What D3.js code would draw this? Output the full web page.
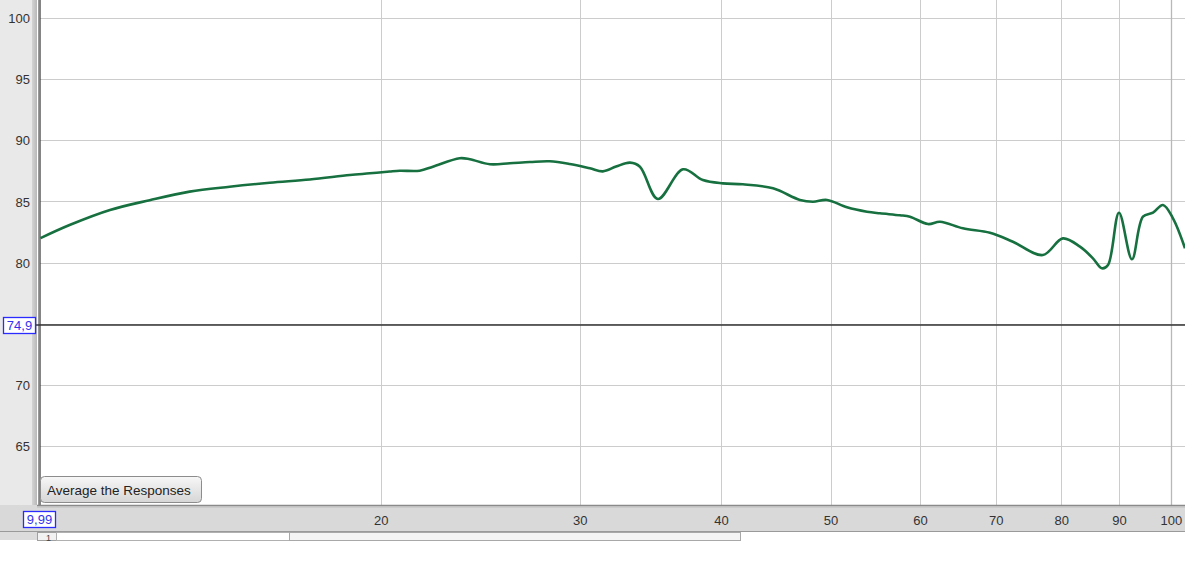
<!DOCTYPE html>
<html>
<head>
<meta charset="utf-8">
<script src="https://cdn.jsdelivr.net/npm/d3@7/dist/d3.min.js"></script>
<style>
  html, body { margin: 0; padding: 0; background: #fff; }
  svg { display: block; font-family: "Liberation Sans", Arial, sans-serif; }
</style>
</head>
<body>
<svg id="chart" width="1185" height="584"></svg>
<script>
// ---- data ----
const freqs = [10.0, 10.61, 11.52, 12.49, 13.55, 14.70, 15.95, 17.31, 18.78, 19.56, 20.37, 20.79, 21.65, 22.24,
  23.49, 23.98, 24.98, 26.01, 27.10, 28.22, 29.39, 30.62, 31.44, 32.3, 33.23, 33.91, 35.17, 37.02,
  38.55, 40.15, 41.82, 44.47, 46.98, 48.24, 49.64, 51.70, 53.85, 55.29, 57.59, 58.78, 60.98, 62.49, 65.47,
  69.18, 72.49, 77.05, 80.26, 83.10, 85.33, 86.90, 87.99, 89.98, 92.39, 94.48, 96.44, 98.41, 100.44, 102.93];
const spl = [82.0, 83.07, 84.3, 85.1, 85.8, 86.2, 86.53, 86.8, 87.16, 87.3, 87.45, 87.51, 87.51, 87.84,
  88.53, 88.45, 88.04, 88.12, 88.22, 88.28, 88.06, 87.71, 87.46, 87.85, 88.17, 87.84, 85.2, 87.63,
  86.75, 86.48, 86.4, 86.07, 85.12, 84.98, 85.12, 84.52, 84.16, 84.03, 83.87, 83.75, 83.15, 83.34, 82.8,
  82.44, 81.71, 80.62, 81.98, 81.3, 80.35, 79.53, 79.8, 84.08, 80.27, 83.75, 84.08, 84.71, 83.62, 81.17];
const xTicks = [20, 30, 40, 50, 60, 70, 80, 90, 100];
const yGrid = [65, 70, 75, 80, 85, 90, 95, 100];
const yLabels = [65, 70, 80, 85, 90, 95, 100];
const xMin = 9.99, xMax = 102.93;
const cursorY = 74.9;
const cursorXLabel = "9,99";
const cursorYLabel = "74,9";
const buttonLabel = "Average the Responses";

// ---- layout ----
const W = 1185;
const plotL = 40, plotR = 1185, plotT = 0, plotB = 505;
const svg = d3.select("#chart");

const x = d3.scaleLog().domain([xMin, xMax]).range([plotL, plotR]);
const y = d3.scaleLinear().domain([60.18, 101.47]).range([plotB, plotT]);

// defs
const defs = svg.append("defs");
const sideGrad = defs.append("linearGradient").attr("id", "sideGrad").attr("x1", 0).attr("x2", 1).attr("y1", 0).attr("y2", 0);
sideGrad.append("stop").attr("offset", "0%").attr("stop-color", "#d4d4d4");
sideGrad.append("stop").attr("offset", "100%").attr("stop-color", "#b8b8b8");
const btnGrad = defs.append("linearGradient").attr("id", "btnGrad").attr("x1", 0).attr("x2", 0).attr("y1", 0).attr("y2", 1);
btnGrad.append("stop").attr("offset", "0%").attr("stop-color", "#f7f7f7");
btnGrad.append("stop").attr("offset", "100%").attr("stop-color", "#d6d6d6");
defs.append("clipPath").attr("id", "plotClip").append("rect")
  .attr("x", plotL).attr("y", plotT).attr("width", plotR - plotL).attr("height", plotB - plotT);

// left panel
svg.append("rect").attr("x", 0).attr("y", 0).attr("width", 37).attr("height", 532).attr("fill", "#e9e9e9");
svg.append("rect").attr("x", 32).attr("y", 0).attr("width", 5).attr("height", 505).attr("fill", "url(#sideGrad)");
// plot background
svg.append("rect").attr("x", 37).attr("y", 0).attr("width", W - 37).attr("height", plotB).attr("fill", "#ffffff");

// grid
const grid = svg.append("g");
grid.selectAll("line.h").data(yGrid).join("line")
  .attr("x1", plotL).attr("x2", plotR)
  .attr("y1", d => Math.round(y(d)) + 0.5).attr("y2", d => Math.round(y(d)) + 0.5)
  .attr("stroke", "#cccccc").attr("stroke-width", 1);
grid.selectAll("line.v").data(xTicks).join("line")
  .attr("x1", d => Math.round(x(d)) + 0.5).attr("x2", d => Math.round(x(d)) + 0.5)
  .attr("y1", plotT).attr("y2", plotB)
  .attr("stroke", d => d === 100 ? "#b8b8b8" : "#cccccc").attr("stroke-width", d => d === 100 ? 1.3 : 1);

// cursor lines
svg.append("line").attr("x1", plotL - 1.5).attr("x2", plotL - 1.5).attr("y1", 0).attr("y2", plotB)
  .attr("stroke", "#9a9a9a").attr("stroke-width", 1);
svg.append("line").attr("x1", plotL).attr("x2", plotL).attr("y1", 0).attr("y2", 511)
  .attr("stroke", "#333").attr("stroke-width", 1.2);
svg.append("line").attr("x1", 36).attr("x2", plotR).attr("y1", y(cursorY)).attr("y2", y(cursorY))
  .attr("stroke", "#333").attr("stroke-width", 1.5);

// curve
const pts = freqs.map((f, i) => [f, spl[i]]);
svg.append("path").datum(pts)
  .attr("clip-path", "url(#plotClip)")
  .attr("fill", "none").attr("stroke", "#17703f").attr("stroke-width", 2.6)
  .attr("stroke-linejoin", "round")
  .attr("d", d3.line().x(d => x(d[0])).y(d => y(d[1])).curve(d3.curveCatmullRom.alpha(0.5)));

// bottom axis strip
svg.append("rect").attr("x", 0).attr("y", plotB).attr("width", W).attr("height", 27).attr("fill", "#d9d9d9");
svg.append("line").attr("x1", 37).attr("x2", W).attr("y1", plotB + 0.5).attr("y2", plotB + 0.5).attr("stroke", "#8a8a8a").attr("stroke-width", 1.5);
svg.append("line").attr("x1", 37).attr("x2", W).attr("y1", plotB + 2).attr("y2", plotB + 2).attr("stroke", "#bdbdbd").attr("stroke-width", 1);
svg.append("line").attr("x1", 0).attr("x2", W).attr("y1", 531.5).attr("y2", 531.5).attr("stroke", "#9a9a9a").attr("stroke-width", 1);

// x tick labels via axis
const xAxis = d3.axisBottom(x).tickValues(xTicks).tickFormat(d3.format("d")).tickSize(0).tickPadding(0);
const xg = svg.append("g").attr("transform", `translate(0,${plotB})`).call(xAxis);
xg.select(".domain").remove();
xg.selectAll("text").attr("y", 20).attr("dy", null).attr("font-size", 13)
  .attr("font-family", "Liberation Sans, Arial, sans-serif").attr("fill", "#333");

// y tick labels via axis
const yAxis = d3.axisLeft(y).tickValues(yLabels).tickFormat(d3.format("d")).tickSize(0).tickPadding(0);
const yg = svg.append("g").attr("transform", `translate(30,0)`).call(yAxis);
yg.select(".domain").remove();
yg.selectAll("text").attr("dy", "0.36em").attr("x", 0).attr("font-size", 13)
  .attr("font-family", "Liberation Sans, Arial, sans-serif").attr("fill", "#333");

// scrollbar row
svg.append("rect").attr("x", 0).attr("y", 532).attr("width", 37).attr("height", 8).attr("fill", "#dcdcdc");
svg.append("rect").attr("x", 37.5).attr("y", 532.5).attr("width", 19).attr("height", 8).attr("fill", "#f2f2f2").attr("stroke", "#a0a0a0");
svg.append("text").attr("x", 46).attr("y", 541).attr("font-size", 9).attr("fill", "#444").text("1");
svg.append("rect").attr("x", 56.5).attr("y", 532.5).attr("width", 233).attr("height", 8).attr("fill", "#ffffff").attr("stroke", "#b0b0b0");
svg.append("rect").attr("x", 289.5).attr("y", 532.5).attr("width", 451).attr("height", 8).attr("fill", "#f4f4f4").attr("stroke", "#a8a8a8");
svg.append("rect").attr("x", 0).attr("y", 541).attr("width", W).attr("height", 43).attr("fill", "#ffffff");

// cursor value boxes
function valueBox(bx, by, bw, bh, label) {
  svg.append("rect").attr("x", bx + 0.5).attr("y", by + 0.5).attr("width", bw).attr("height", bh)
    .attr("fill", "#ffffff").attr("stroke", "#2b2bff").attr("stroke-width", 1.3);
  svg.append("text").attr("x", bx + bw / 2 + 0.5).attr("y", by + bh / 2 + 5)
    .attr("text-anchor", "middle").attr("font-size", 13).attr("fill", "#3333ee").text(label);
}
valueBox(23, 511, 32, 16, cursorXLabel);
valueBox(3, 317, 32, 16, cursorYLabel);

// button
svg.append("rect").attr("x", 40.5).attr("y", 476.5).attr("width", 161).attr("height", 26).attr("rx", 4)
  .attr("fill", "url(#btnGrad)").attr("stroke", "#8c8c8c");
svg.append("text").attr("x", 47).attr("y", 494.5).attr("font-size", 13.5).attr("fill", "#222").text(buttonLabel);
</script>
</body>
</html>
